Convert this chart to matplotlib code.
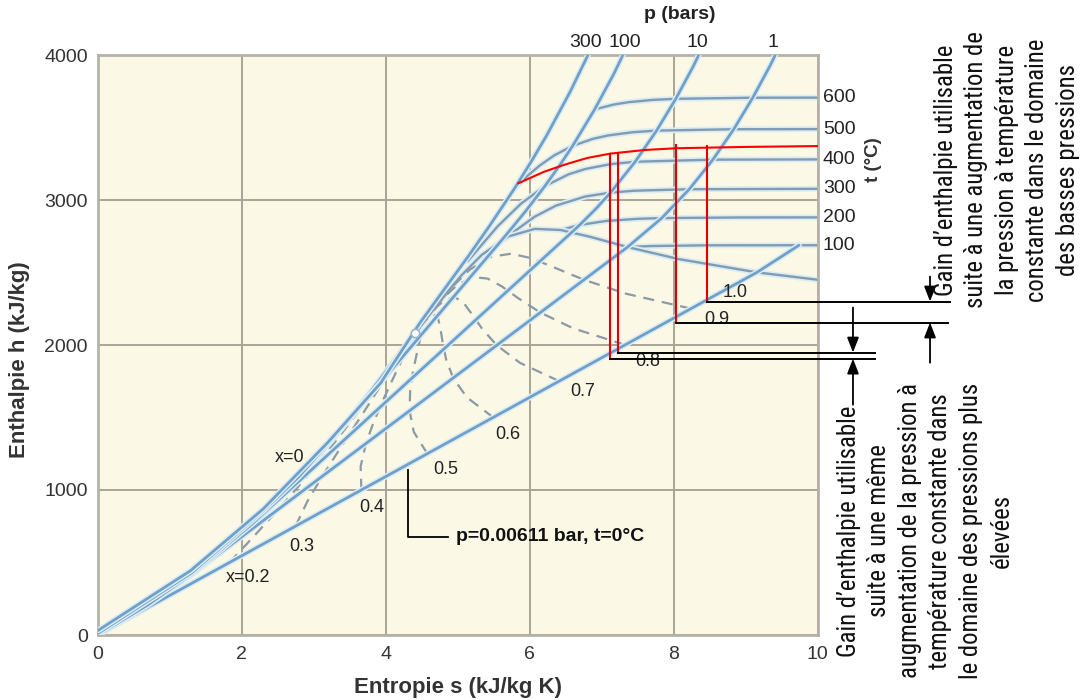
import matplotlib
matplotlib.use("Agg")
import matplotlib.pyplot as plt
import matplotlib.patheffects as pe
from matplotlib import font_manager as fm

# ---------------- data (s in kJ/kg K, h in kJ/kg) ----------------
x_ticks = [0, 2, 4, 6, 8, 10]
y_ticks = [0, 1000, 2000, 3000, 4000]

# saturated liquid line (x = 0)
sat_liq_s = [0, 0.704, 1.307, 1.842, 2.331, 2.793, 3.255, 3.66, 3.916, 4.11, 4.41]
sat_liq_h = [0, 209.3, 419.0, 632.2, 852.4, 1085.8, 1344.8, 1594.5, 1760.5, 1890.0, 2084]
# saturated vapour line (x = 1)
sat_vap_s = [4.41, 4.80, 5.053, 5.335, 5.705, 6.072, 6.431, 6.837, 7.355, 8.075, 9.156, 10.0]
sat_vap_h = [2084, 2332, 2481, 2622, 2749, 2801, 2793, 2746.5, 2676, 2592, 2501, 2450]

# isobars
p0006_s = [0, 9.156, 9.45, 9.74]
p0006_h = [0, 2501, 2595, 2688]
p1_s = [0, 0.704, 1.303, 7.359, 7.834, 8.216, 8.544, 8.834, 9.098, 9.341, 9.565]
p1_h = [0, 209.3, 417.5, 2675.5, 2875.3, 3074.3, 3278.2, 3488.1, 3705.4, 3928.7, 4159]
p10_s = [0, 0.704, 1.307, 2.138, 6.586, 6.694, 6.926, 7.123, 7.465, 7.762, 8.029, 8.273, 8.497]
p10_h = [0, 210, 419.5, 762.8, 2778.1, 2827.9, 2942.6, 3051.2, 3263.9, 3478.5, 3697.9, 3923.1, 4154.8]
p100_s = [0, 1.30, 2.31, 2.79, 3.360, 5.614, 5.757, 5.944, 6.212, 6.419, 6.597, 6.903, 7.169, 7.406]
p100_h = [10, 427, 860, 1090, 1407.6, 2724.7, 2810, 2923.4, 3096.5, 3240.9, 3373.7, 3625.3, 3870.5, 4114.8]
p300_s = [0, 1.29, 2.30, 3.20, 3.93, 4.473, 5.150, 5.442, 5.791, 6.034, 6.234, 6.561, 6.833]
p300_h = [30, 444, 870, 1330, 1737.8, 2151.1, 2614.2, 2821.4, 3081.1, 3275.4, 3443.9, 3745.6, 4024.2]
isobars = [(p0006_s, p0006_h), (p1_s, p1_h), (p10_s, p10_h), (p100_s, p100_h), (p300_s, p300_h)]

# isotherms (superheated region)
t600_s = [6.903, 7.168, 7.369, 7.702, 8.029, 9.098, 10.0]
t600_h = [3625.3, 3658.4, 3674.4, 3690.1, 3697.9, 3705.4, 3706]
t500_s = [5.791, 5.959, 6.140, 6.344, 6.597, 6.880, 7.090, 7.432, 7.762, 8.834, 10.0]
t500_h = [3081.1, 3162.4, 3238.2, 3308.6, 3373.7, 3422.2, 3445.3, 3467.6, 3478.5, 3488.1, 3489]
t400_s = [5.139, 5.554, 5.881, 6.212, 6.541, 6.769, 7.127, 7.465, 8.544, 10.0]
t400_h = [2578, 2818.1, 2975.4, 3096.5, 3177.2, 3213.6, 3247.6, 3263.9, 3278.2, 3280]
t300_s = [5.705, 5.791, 6.067, 6.362, 6.767, 7.123, 7.460, 8.216, 10.0]
t300_h = [2749, 2785, 2884.2, 2960.7, 3023.5, 3051.2, 3064.2, 3074.3, 3077]
t200_s = [6.431, 6.694, 7.059, 7.507, 7.834, 8.904, 10.0]
t200_h = [2793, 2827.9, 2855.4, 2870.5, 2875.3, 2879.5, 2880]
t100_s = [7.355, 7.695, 8.449, 9.74, 10.0]
t100_h = [2676, 2682.5, 2687.5, 2688, 2688]
isotherms = [(t600_s, t600_h), (t500_s, t500_h), (t400_s, t400_h),
             (t300_s, t300_h), (t200_s, t200_h), (t100_s, t100_h)]
isotherm_labels = ["600", "500", "400", "300", "200", "100"]

# constant-quality lines (dashed), from 0 degC up to the critical point
x02_s = [1.831, 2.178, 2.517, 2.841, 3.151, 3.449, 3.745, 3.995, 4.143, 4.248, 4.41]
x02_h = [500.2, 685.8, 870.4, 1055.1, 1240.5, 1428.8, 1625.6, 1800.0, 1904.6, 1978.4, 2084]
x03_s = [2.747, 2.915, 3.121, 3.341, 3.561, 3.777, 3.990, 4.163, 4.257, 4.317, 4.41]
x03_h = [750.3, 924.1, 1096.1, 1266.5, 1434.6, 1600.4, 1766.1, 1902.8, 1976.7, 2022.6, 2084]
x04_s = [3.662, 3.652, 3.726, 3.840, 3.971, 4.105, 4.235, 4.330, 4.371, 4.386, 4.41]
x04_h = [1000.4, 1162.4, 1321.8, 1477.9, 1628.6, 1771.9, 1906.5, 2005.5, 2048.7, 2066.8, 2084]
x05_s = [4.578, 4.390, 4.331, 4.340, 4.381, 4.433, 4.480, 4.498, 4.485, 4.455, 4.41]
x05_h = [1250.5, 1400.7, 1547.5, 1689.4, 1822.7, 1943.4, 2046.9, 2108.3, 2120.8, 2111.0, 2084]
x06_s = [5.494, 5.127, 4.936, 4.839, 4.791, 4.760, 4.725, 4.665, 4.598, 4.524, 4.41]
x06_h = [1500.6, 1638.9, 1773.2, 1900.8, 2016.8, 2114.9, 2187.3, 2211.0, 2192.8, 2155.2, 2084]
x07_s = [6.409, 5.864, 5.541, 5.339, 5.201, 5.088, 4.970, 4.833, 4.712, 4.593, 4.41]
x07_h = [1750.7, 1877.2, 1998.9, 2112.2, 2210.8, 2286.4, 2327.7, 2313.8, 2264.9, 2199.4, 2084]
x08_s = [7.325, 6.601, 6.145, 5.838, 5.611, 5.416, 5.215, 5.000, 4.826, 4.662, 4.41]
x08_h = [2000.8, 2115.5, 2224.6, 2323.6, 2404.9, 2458.0, 2468.2, 2416.5, 2336.9, 2243.6, 2084]
x09_s = [8.240, 7.338, 6.750, 6.338, 6.021, 5.744, 5.460, 5.168, 4.939, 4.731, 4.41]
x09_h = [2250.9, 2353.7, 2450.3, 2535.1, 2598.9, 2629.5, 2608.6, 2519.3, 2409.0, 2287.8, 2084]
quality_lines = [(x02_s, x02_h), (x03_s, x03_h), (x04_s, x04_h), (x05_s, x05_h),
                 (x06_s, x06_h), (x07_s, x07_h), (x08_s, x08_h), (x09_s, x09_h)]

# quality labels: text, s, h
q_labels = ["x=0", "x=0.2", "0.3", "0.4", "0.5", "0.6", "0.7", "0.8", "0.9", "1.0"]
q_lab_s = [2.67, 2.09, 2.84, 3.81, 4.84, 5.70, 6.74, 7.64, 8.60, 8.85]
q_lab_h = [1222, 400, 608, 877, 1140, 1381, 1678, 1885, 2175, 2362]

# pressure labels at the top
p_labels = ["300", "100", "10", "1"]
p_lab_s = [6.77, 7.32, 8.33, 9.38]

# red process lines
red_s = [5.84, 6.2, 6.5, 6.8, 7.12, 7.6, 8.04, 9.0, 10.0]
red_h = [3115, 3195, 3246, 3290, 3320, 3345, 3357, 3366, 3372]
red_v_s = [7.115, 7.226, 8.03, 8.46]
red_v_top = [3320, 3327, 3377, 3370]
red_v_bot = [1906, 1948, 2155, 2300]
black_end_s = [10.80, 10.80, 11.81, 11.84]

# ---------------- styling ----------------
names = {f.name for f in fm.fontManager.ttflist}
NARROW = "Liberation Sans"
for cand in ["Liberation Sans Narrow", "Roboto Condensed", "Open Sans Condensed",
             "DejaVu Sans Condensed", "Noto Sans Condensed"]:
    if cand in names:
        NARROW = cand
        break
SANS = "Liberation Sans"

BG = "#fbf8e5"
GRID = "#a8a596"
BLUE = "#6fa0c9"
GREYBLUE = "#7f9cb3"
DASH = "#8b9aa6"
HALO = [pe.Stroke(linewidth=4.2, foreground="#dcecf2"), pe.Normal()]

W, H = 1083, 700
fig = plt.figure(figsize=(W / 100, H / 100), dpi=100)
ax = fig.add_axes([97.7 / W, 1 - 635 / H, 720 / W, 580 / H])
ax.set_facecolor(BG)
ax.set_xlim(0, 10)
ax.set_ylim(0, 4000)
ax.set_xticks(x_ticks)
ax.set_yticks(y_ticks)
ax.tick_params(length=0, labelsize=14, labelcolor="#333333")
ax.tick_params(axis="x", pad=8)
ax.tick_params(axis="y", pad=7)
for lab in ax.get_xticklabels() + ax.get_yticklabels():
    lab.set_family(SANS)
ax.grid(True, color=GRID, lw=1.4, zorder=0)
ax.set_axisbelow(True)
for sp in ax.spines.values():
    sp.set_color("#b5b3a8")
    sp.set_linewidth(2)

# isotherms
for s, h in isotherms:
    ax.plot(s, h, color=GREYBLUE, lw=1.7, zorder=2, path_effects=HALO, solid_capstyle="round")
ax.plot(sat_vap_s, sat_vap_h, color=GREYBLUE, lw=1.7, zorder=2, path_effects=HALO)

# quality lines
for s, h in quality_lines:
    ax.plot(s, h, color=DASH, lw=1.6, ls=(0, (5, 3.5)), zorder=2)

# isobars and liquid line
ax.plot(sat_liq_s, sat_liq_h, color=BLUE, lw=2.0, zorder=3, path_effects=HALO)
for s, h in isobars:
    ax.plot(s, h, color=BLUE, lw=2.0, zorder=3, path_effects=HALO, solid_capstyle="round")

# critical point
ax.plot([sat_liq_s[-1]], [sat_liq_h[-1]], "o", ms=6, mfc="white", mec="#9fb4c4", mew=1.2, zorder=5)

# red lines
ax.plot(red_s, red_h, color="#ff0000", lw=1.5, zorder=6)
for s, t, b in zip(red_v_s, red_v_top, red_v_bot):
    ax.plot([s, s], [b, t], color="#e00000", lw=1.5, zorder=6)
# black horizontal lines leaving the chart
for s, b, e in zip(red_v_s, red_v_bot, black_end_s):
    ax.plot([s, e], [b, b], color="black", lw=1.4, zorder=6, clip_on=False)

# arrows (right of the chart)
arr = dict(arrowstyle="-|>,head_length=0.9,head_width=0.35", color="black", lw=1.3,
           shrinkA=0, shrinkB=0)
ax.annotate("", xy=(10.49, red_v_bot[1]), xytext=(10.49, 2258), arrowprops=arr, annotation_clip=False)
ax.annotate("", xy=(10.49, red_v_bot[0]), xytext=(10.49, 1588), arrowprops=arr, annotation_clip=False)
ax.annotate("", xy=(11.56, red_v_bot[3]), xytext=(11.56, 2472), arrowprops=arr, annotation_clip=False)
ax.annotate("", xy=(11.56, red_v_bot[2]), xytext=(11.56, 1878), arrowprops=arr, annotation_clip=False)

# leader for p=0.00611 label
ax.plot([4.31, 4.31, 4.87], [1140, 677, 677], color="black", lw=1.3, zorder=6)
ax.text(4.97, 677, "p=0.00611 bar, t=0°C", fontsize=14, fontweight="bold", family=SANS,
        va="center", ha="left", color="#111111")

# quality labels
for t, s, h in zip(q_labels, q_lab_s, q_lab_h):
    ax.text(s, h, t, fontsize=13, family=SANS, ha="center", va="center", color="#222222")

# isotherm labels on the right
for t, (s, h) in zip(isotherm_labels, isotherms):
    ax.text(10.07, h[-1], t, fontsize=14, family=SANS, ha="left", va="center",
            color="#222222", clip_on=False)
ax.text(10.77, 3280, "t (°C)", fontsize=13.5, fontweight="bold", family=SANS, rotation=90,
        ha="center", va="center", color="#333333")

# pressure labels at top
for t, s in zip(p_labels, p_lab_s):
    ax.text(s, 4088, t, fontsize=14, family=SANS, ha="center", va="center", color="#222222")
ax.text(8.09, 4282, "p (bars)", fontsize=14, fontweight="bold", family=SANS,
        ha="center", va="center", color="#222222")

# axis labels
ax.set_xlabel("Entropie s (kJ/kg K)", fontsize=16, fontweight="bold", family=SANS,
              color="#333333", va="center")
ax.xaxis.set_label_coords(0.5, -(688 - 635) / 580)
ax.set_ylabel("Enthalpie h (kJ/kg)", fontsize=16, fontweight="bold", family=SANS,
              color="#333333", va="center")
ax.yaxis.set_label_coords((19 - 97.7) / 720, (635 - 360) / 580)

# explanatory texts
txt1 = ("Gain d\u2019enthalpie utilisable\nsuite à une augmentation de\nla pression à température\n"
        "constante dans le domaine\ndes basses pressions")
txt2 = ("Gain d\u2019enthalpie utilisable\nsuite à une même\naugmentation de la pression à\n"
        "température constante dans\nle domaine des pressions plus\nélevées")
t1 = fig.text(1007 / W, 1 - 170 / H, txt1, rotation=90, fontsize=16, family=NARROW,
              ha="center", va="center", multialignment="center", linespacing=1.3, color="#111111")
t2 = fig.text(925 / W, 1 - 531 / H, txt2, rotation=90, fontsize=16, family=NARROW,
              ha="center", va="center", multialignment="center", linespacing=1.3, color="#111111")

# fit block size to the reference extents (long side 278 px, short side 146 px for block 1)
fig.canvas.draw()
r = fig.canvas.get_renderer()
bb = t1.get_window_extent(r)
fs = 16 * 278.0 / bb.height
for t in (t1, t2):
    t.set_fontsize(fs)
fig.canvas.draw()
w_a = t1.get_window_extent(r).width
t1.set_linespacing(1.6)
fig.canvas.draw()
w_b = t1.get_window_extent(r).width
ls = 1.3 + (146.0 - w_a) * (1.6 - 1.3) / (w_b - w_a) if w_b != w_a else 1.3
for t in (t1, t2):
    t.set_linespacing(ls)

fig.savefig("out.png", dpi=100, facecolor="white")
